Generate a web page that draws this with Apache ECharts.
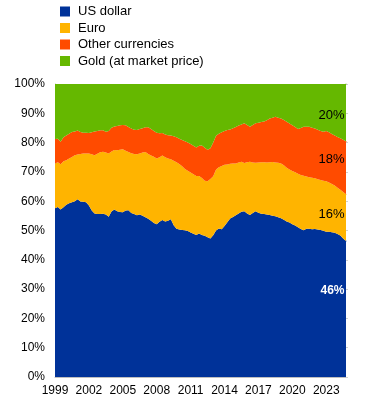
<!DOCTYPE html>
<html>
<head>
<meta charset="utf-8">
<script src="https://cdn.jsdelivr.net/npm/echarts@6/dist/echarts.min.js"></script>
<style>
  html, body { margin: 0; padding: 0; background: #fff; }
  #chart { width: 375px; height: 405px; }
</style>
</head>
<body>
<div id="chart"></div>
<script>
  // shares of global official reserves incl. gold, %, quarterly 1999Q1 - 2024Q4
  var firstYear = 1999
  var lastYear = 2024
  var categories = []
  for (var y = firstYear; y <= lastYear; y++) {
    for (var q = 1; q <= 4; q++) categories.push(y + 'Q' + q)
  }

  var seriesNames = ['US dollar', 'Euro', 'Other currencies', 'Gold (at market price)']
  var seriesColors = ['#003299', '#ffb400', '#ff4b00', '#65b800']

  var usd = [
    57.6, 58.0, 57.2, 57.9, 58.8, 59.3, 59.6, 60.0, 60.7, 59.9, 59.8, 59.6,
    58.5, 56.8, 55.8, 55.6, 55.6, 55.7, 55.5, 54.7, 56.5, 57.2, 56.6, 56.3,
    56.2, 56.8, 56.9, 56.0, 55.6, 55.2, 55.5, 55.0, 54.5, 54.0, 53.3, 52.6,
    52.1, 53.0, 53.6, 53.1, 53.3, 53.8, 51.8, 50.6, 50.3, 50.2, 50.1, 49.8,
    49.3, 48.9, 48.5, 49.0, 48.5, 48.2, 47.7, 47.3, 48.4, 50.0, 50.7, 50.4,
    51.5, 52.8, 54.1, 54.6, 55.2, 55.8, 56.4, 56.6, 55.8, 55.3, 56.0, 56.6,
    56.1, 55.7, 55.6, 55.5, 55.3, 55.0, 54.9, 54.5, 54.2, 53.7, 53.1, 52.7,
    52.1, 51.7, 51.1, 50.5, 50.1, 50.6, 50.6, 50.4, 50.5, 50.3, 50.2, 49.9,
    49.6, 49.6, 49.4, 49.2, 48.8, 48.3, 47.3, 46.4
  ]
  var euro = [
    15.3, 15.3, 15.4, 15.7, 15.2, 15.3, 15.5, 15.7, 15.2, 16.2, 16.5, 16.7,
    17.8, 19.2, 19.9, 20.6, 21.1, 21.2, 21.1, 21.6, 20.5, 20.3, 20.8, 21.3,
    21.5, 20.4, 19.9, 20.4, 20.5, 20.8, 20.8, 21.6, 22.3, 22.1, 22.3, 22.6,
    22.5, 22.0, 22.0, 21.9, 21.3, 20.5, 22.0, 22.7, 22.4, 21.7, 20.9, 20.6,
    20.5, 20.3, 20.1, 19.6, 19.4, 18.8, 19.1, 20.3, 20.1, 20.8, 20.9, 21.6,
    20.9, 19.7, 18.7, 18.3, 17.7, 17.4, 17.1, 16.4, 17.5, 18.2, 17.2, 16.5,
    17.1, 17.6, 17.7, 17.7, 18.0, 18.4, 18.3, 18.6, 18.7, 18.6, 18.3, 18.1,
    18.2, 18.2, 18.3, 18.4, 18.6, 17.8, 17.6, 17.6, 17.3, 17.2, 17.0, 17.1,
    17.2, 16.8, 16.5, 16.2, 15.8, 15.6, 15.8, 16.0
  ]
  var other = [
    8.3, 8.0, 7.7, 8.2, 8.4, 8.4, 8.5, 8.1, 8.2, 7.5, 7.1, 7.1,
    7.0, 7.5, 8.1, 7.8, 7.5, 7.3, 7.1, 7.7, 8.1, 8.0, 8.3, 8.3,
    8.3, 8.7, 8.5, 8.4, 8.3, 8.3, 8.3, 8.3, 8.4, 9.1, 9.0, 8.8,
    8.8, 8.2, 7.7, 7.8, 7.9, 8.1, 8.4, 8.5, 8.6, 9.0, 9.5, 9.6,
    9.7, 9.7, 9.7, 10.3, 11.1, 11.2, 10.8, 10.5, 11.5, 11.5, 11.4, 11.5,
    11.6, 11.8, 11.7, 12.0, 12.4, 12.6, 12.7, 13.6, 12.7, 11.9, 12.8, 13.5,
    13.6, 13.7, 13.9, 14.4, 14.9, 15.1, 15.6, 15.4, 15.3, 15.4, 15.7, 15.7,
    15.6, 15.4, 15.2, 16.1, 16.7, 17.0, 17.2, 17.1, 17.0, 16.9, 16.8, 16.7,
    17.2, 17.1, 17.0, 17.0, 17.3, 17.6, 17.9, 18.0
  ]
  var gold = [
    18.8, 18.7, 19.7, 18.2, 17.6, 17.0, 16.4, 16.2, 15.9, 16.4, 16.6, 16.6,
    16.7, 16.5, 16.2, 16.0, 15.8, 15.8, 16.3, 16.0, 14.9, 14.5, 14.3, 14.1,
    14.0, 14.1, 14.7, 15.2, 15.6, 15.7, 15.4, 15.1, 14.8, 14.8, 15.4, 16.0,
    16.6, 16.8, 16.7, 17.2, 17.5, 17.6, 17.8, 18.2, 18.7, 19.1, 19.5, 20.0,
    20.5, 21.1, 21.7, 21.1, 21.0, 21.8, 22.4, 21.9, 20.0, 17.7, 17.0, 16.5,
    16.0, 15.7, 15.5, 15.1, 14.7, 14.2, 13.8, 13.4, 14.0, 14.6, 14.0, 13.4,
    13.2, 13.0, 12.8, 12.4, 11.8, 11.5, 11.2, 11.5, 11.8, 12.3, 12.9, 13.5,
    14.1, 14.7, 15.4, 15.0, 14.6, 14.6, 14.6, 14.9, 15.2, 15.6, 16.0, 16.3,
    16.0, 16.5, 17.1, 17.6, 18.1, 18.5, 19.0, 19.6
  ]

  var seriesValues = [usd, euro, other, gold]
  // end-of-series value labels
  var endLabelColors = ['#fff', '#000', '#000', '#000']
  var endLabelWeights = ['bold', 'normal', 'normal', 'normal']
  var endLabelShift = [50, 20, 18, 31]

  var last = categories.length - 1
  var font = 'Liberation Sans, Arial, sans-serif'

  var series = seriesValues.map(function (vals, k) {
    return {
      name: seriesNames[k],
      type: 'line',
      stack: 'total',
      data: vals,
      clip: false,
      showAllSymbol: true,
      symbol: function (v, p) { return p.dataIndex === last ? 'circle' : 'none' },
      symbolSize: 1,
      lineStyle: { width: 0 },
      areaStyle: { color: seriesColors[k], opacity: 1 },
      itemStyle: { color: seriesColors[k] },
      emphasis: { disabled: true },
      label: {
        show: true,
        position: 'left',
        distance: 1,
        offset: [0, endLabelShift[k]],
        color: endLabelColors[k],
        fontWeight: endLabelWeights[k],
        fontFamily: font,
        fontSize: k === 0 ? 12 : 13,
        formatter: function (p) { return Math.round(p.value) + '%' }
      }
    }
  })

  var option = {
    animation: false,
    color: seriesColors,
    legend: {
      data: seriesNames,
      orient: 'vertical',
      left: 55,
      top: 0,
      itemWidth: 10,
      itemHeight: 10,
      itemGap: 3.5,
      icon: 'rect',
      selectedMode: false,
      textStyle: { fontSize: 13, color: '#000', fontFamily: font, padding: [0, 0, 0, 3] }
    },
    grid: { left: 55, right: 29, top: 84, bottom: 28 },
    xAxis: {
      type: 'category',
      boundaryGap: false,
      data: categories,
      axisLine: { lineStyle: { color: '#bfbfbf' } },
      axisTick: { show: false },
      axisLabel: {
        interval: 11,
        margin: 8,
        color: '#000',
        fontSize: 12,
        fontFamily: font,
        formatter: function (v) { return v.slice(0, 4) }
      }
    },
    yAxis: [
      {
        type: 'value',
        min: 0,
        max: 100,
        interval: 10,
        axisLine: { show: true, lineStyle: { color: '#bfbfbf' } },
        axisTick: { show: false },
        splitLine: { show: false },
        axisLabel: { formatter: '{value}%', margin: 10, color: '#000', fontSize: 12, fontFamily: font }
      },
      {
        type: 'value',
        position: 'right',
        min: 0,
        max: 100,
        interval: 10,
        axisLine: { show: false },
        axisTick: { show: true, length: 2, lineStyle: { color: '#d0d0d0' } },
        splitLine: { show: false },
        axisLabel: { show: false }
      }
    ],
    series: series
  }

  var chart = echarts.init(document.getElementById('chart'))
  chart.setOption(option)
  window.addEventListener('resize', chart.resize)
</script>
</body>
</html>
